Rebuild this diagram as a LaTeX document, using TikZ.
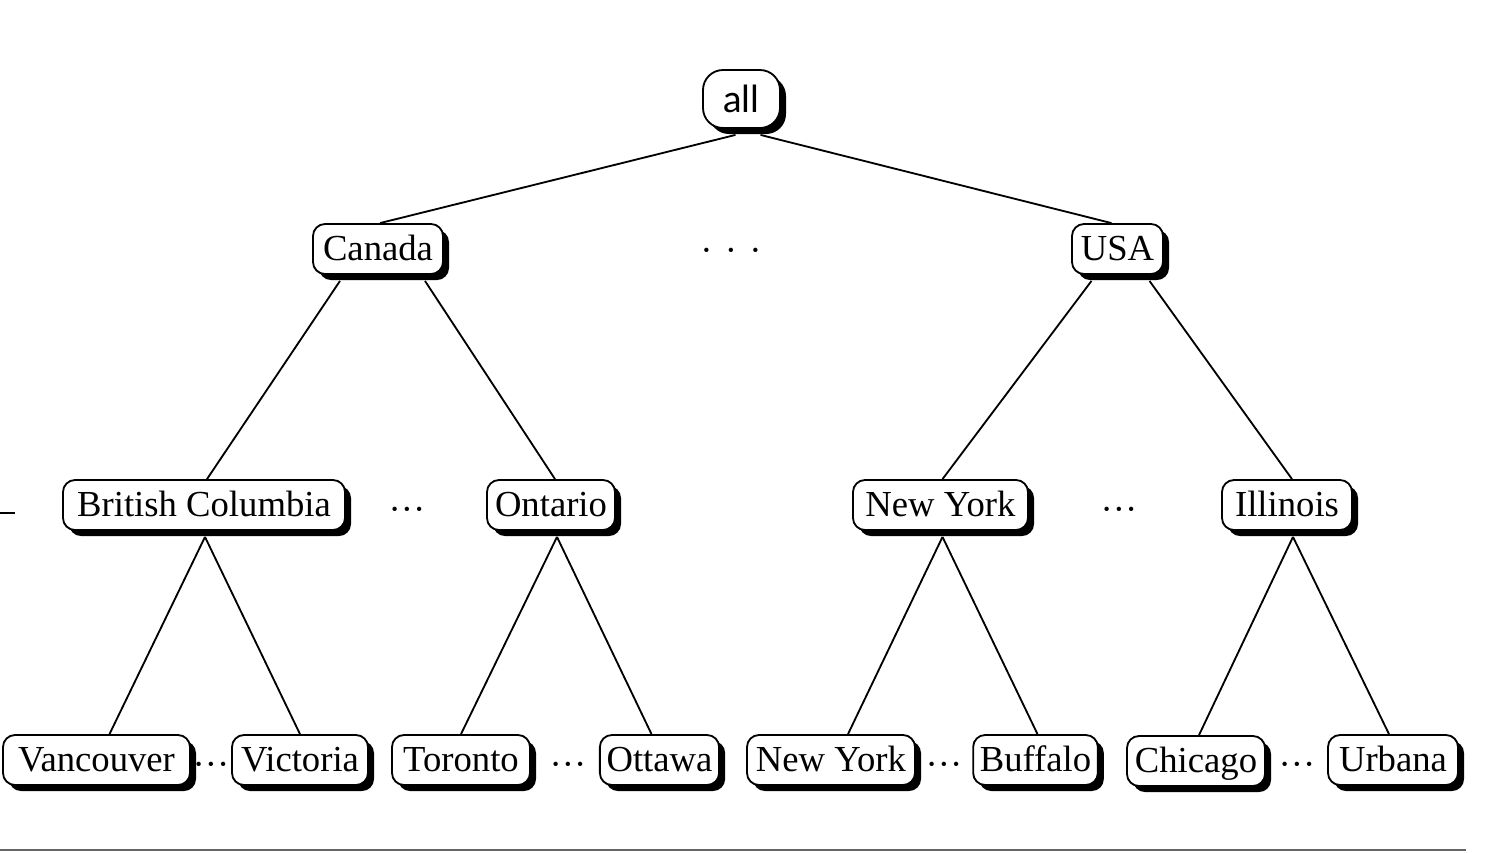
\documentclass[tikz,border=0pt]{standalone}
\usepackage{fontspec}
\setmainfont{Liberation Serif}
\newfontfamily\rootfont{Lato}
\usetikzlibrary{shadows, positioning}
\tikzset{%
	place/.style={
		draw,
		fill=white,
		line width=0.55pt,
		rounded corners=3.6pt,
		minimum height=15pt,
		minimum width=#1*0.3pt,
		inner xsep=2pt,
		inner ysep=0pt,
		text height=7.5pt,
		text depth=0.5pt,
		font=\fontsize{11}{13}\selectfont,
		drop shadow={shadow xshift=1.8pt, shadow yshift=-1.8pt, opacity=1, fill=black}
	},
	place/.default=0,
	rootplace/.style={
		place=77,
		rounded corners=6pt,
		minimum height=17.4pt,
		text height=8pt,
		text depth=0pt,
		font=\rootfont\fontsize{11.2}{13}\selectfont
	},
	gap/.style={
		anchor=base,
		inner sep=0pt,
		font=\fontsize{11}{13}\selectfont
	},
}

\begin{document}
\begin{tikzpicture}[x=0.3pt, y=-0.3pt, line width=0.55pt]
	\useasboundingbox (0,0) rectangle (1496,852);
	
	% Nodes of the tree
	\node[rootplace] (all) at (741.5,99) {all};
	
	\node[place=130] (canada) at (378,249) {Canada};
	\node[place=91] (usa) at (1117.5,249) {USA};
	
	\node[place=282] (bc) at (204,505) {British Columbia};
	\node[place=128] (ontario) at (551,505) {Ontario};
	\node[place=175] (newyork) at (940.5,505) {New York};
	\node[place=130] (illinois) at (1287,505) {Illinois};
	
	\node[place=187] (vancouver) at (96.5,760) {Vancouver};
	\node[place=136] (victoria) at (300,760) {Victoria};
	\node[place=138] (toronto) at (461,760) {Toronto};
	\node[place=117] (ottawa) at (659.5,760) {Ottawa};
	\node[place=168] (nycity) at (831,760) {New York};
	\node[place=123] (buffalo) at (1035.5,760) {Buffalo};
	\node[place=138] (chicago) at (1196,761) {Chicago};
	\node[place=130] (urbana) at (1393,760) {Urbana};
	
	% Gaps between siblings
	\node[gap] (gap0) at (731,262) {·\hspace{3.7pt}·\hspace{3.7pt}·};
	\node[gap] (gap1) at (407,521) {···};
	\node[gap] (gap2) at (1119,521) {···};
	\node[gap] (gap3) at (211,776) {···};
	\node[gap] (gap4) at (568,776) {···};
	\node[gap] (gap5) at (944,776) {···};
	\node[gap] (gap6) at (1297,776) {···};
	
	% Edges
	\draw ([shift={(-6,6)}]all.south) -- ([shift={(2,0)}]canada.north);
	\draw ([shift={(19,6)}]all.south) -- ([shift={(-6,0)}]usa.north);
	
	\draw ([shift={(-38,6)}]canada.south) -- ([shift={(3,0)}]bc.north);
	\draw ([shift={(47,6)}]canada.south) -- ([shift={(4,0)}]ontario.north);
	\draw ([shift={(-26,6)}]usa.south) -- ([shift={(2,0)}]newyork.north);
	\draw ([shift={(32,6)}]usa.south) -- ([shift={(5,0)}]illinois.north);
	
	\draw ([shift={(1,6)}]bc.south) -- ([shift={(13,0)}]vancouver.north);
	\draw ([shift={(1,6)}]bc.south) -- (victoria.north);
	\draw ([shift={(6,6)}]ontario.south) -- (toronto.north);
	\draw ([shift={(6,6)}]ontario.south) -- ([shift={(-8,0)}]ottawa.north);
	\draw ([shift={(2,6)}]newyork.south) -- ([shift={(17,0)}]nycity.north);
	\draw ([shift={(2,6)}]newyork.south) -- ([shift={(2,0)}]buffalo.north);
	\draw ([shift={(6,6)}]illinois.south) -- ([shift={(3,0)}]chicago.north);
	\draw ([shift={(6,6)}]illinois.south) -- ([shift={(-4,0)}]urbana.north);
	
	% Rules at the margins
	\draw (0,513) -- (15,513);
	\draw[black!60, line width=0.6pt] (0,850) -- (1466,850);
	
\end{tikzpicture}
\end{document}
